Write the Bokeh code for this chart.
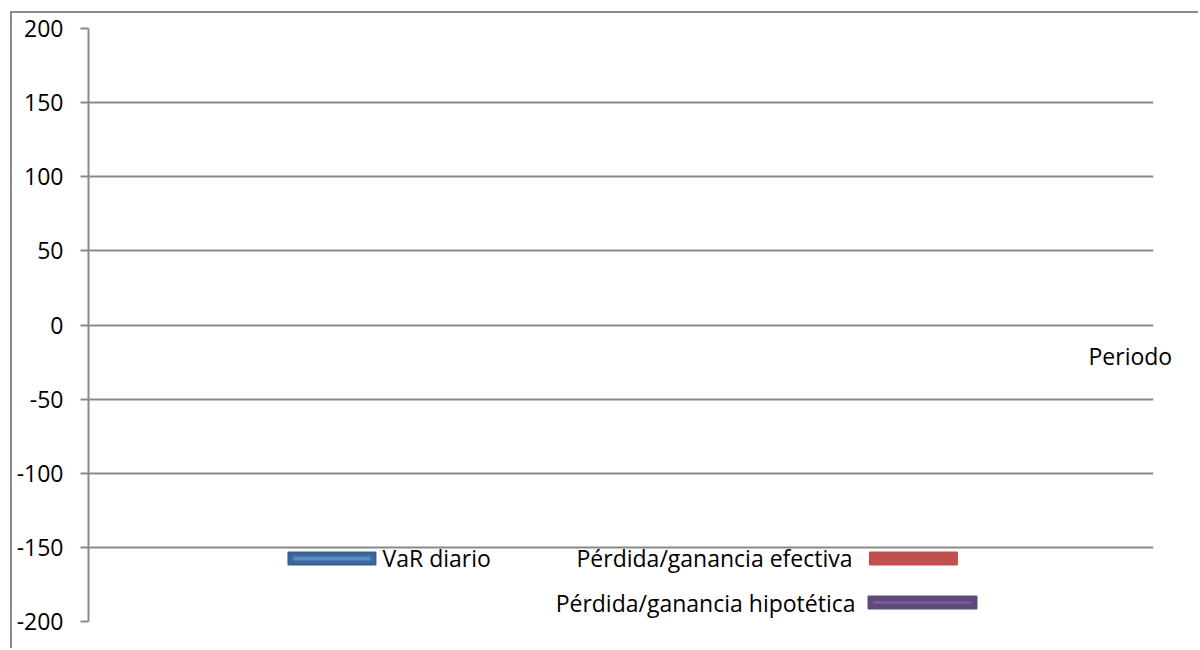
from bokeh.plotting import figure
from bokeh.models import Range1d, FixedTicker, Label, LinearAxis
from bokeh.embed import file_html
from bokeh.resources import INLINE

# ---- data (the reference chart has no plotted values) ----
periods = []
var_diario = []
pg_efectiva = []
pg_hipotetica = []
y_ticks = [-200, -150, -100, -50, 0, 50, 100, 150, 200]
y_tick_labels = ["-200", "-150", "-100", "-50", "0", "50", "100", "150", "200"]
series_names = ["VaR diario", "Pérdida/ganancia efectiva", "Pérdida/ganancia hipotética"]
x_title = "Periodo"
x_title_level = -21

FONT = "Open Sans"
FS = "23px"
GRID = "#898989"

p = figure(width=1188, height=637, output_backend="svg", toolbar_location=None,
           x_range=Range1d(0, 1), y_range=Range1d(-200, 200),
           min_border_left=76, min_border_right=47, min_border_top=15, min_border_bottom=29)
p.styles = {"border-left": "2px solid #8c8c8c", "border-top": "2px solid #8c8c8c",
            "margin-left": "10px", "margin-top": "11px"}
p.outline_line_color = None
p.background_fill_color = "white"
p.border_fill_color = "white"

p.xaxis.visible = False
p.xgrid.visible = False

ya = p.yaxis[0]
ya.ticker = FixedTicker(ticks=y_ticks)
ya.major_label_overrides = {t: l for t, l in zip(y_ticks, y_tick_labels)}
ya.axis_line_color = GRID
ya.axis_line_width = 2
ya.major_tick_line_color = GRID
ya.major_tick_line_width = 2
ya.major_tick_in = 0
ya.major_tick_out = 8
ya.minor_tick_line_color = None
ya.major_label_standoff = 17
ya.major_label_text_font = FONT
ya.major_label_text_font_size = FS
ya.major_label_text_color = "black"

p.ygrid.ticker = FixedTicker(ticks=y_ticks)
p.ygrid.grid_line_color = GRID
p.ygrid.grid_line_width = 2

# x-axis title placed at the right, as in the reference
ra = LinearAxis(ticker=FixedTicker(ticks=[x_title_level]),
                major_label_overrides={x_title_level: x_title})
ra.axis_line_color = None
ra.major_tick_line_color = None
ra.minor_tick_line_color = None
ra.major_tick_in = 0
ra.major_tick_out = 0
ra.major_label_standoff = -65
ra.major_label_text_font = FONT
ra.major_label_text_font_size = FS
ra.major_label_text_color = "black"
p.add_layout(ra, "right")

# series (empty, as in the reference)
p.line(periods, var_diario, line_color="#4F81BD", line_width=3)
p.line(periods, pg_efectiva, line_color="#C0504D", line_width=3)
p.line(periods, pg_hipotetica, line_color="#8064A2", line_width=3)

# legend (manual, mimicking the reference layout)
# VaR diario: swatch left, text right
p.rect(x=[0.2286], y=[-157.5], width=87, height=12, width_units="screen", height_units="screen",
       fill_color="#3D689E", line_color="#385D8A", line_width=2, line_join="round")
p.segment(x0=[0.1925], y0=[-157.5], x1=[0.2647], y1=[-157.5], line_color="#5B8BC7", line_width=4)
p.add_layout(Label(x=0.2761, y=-157.5, text=series_names[0], text_font=FONT, text_font_size=FS,
                   text_baseline="middle", text_align="left", text_color="black"))
# efectiva: text left, swatch right
p.rect(x=[0.7746], y=[-157.5], width=87, height=12, width_units="screen", height_units="screen",
       fill_color="#C0504D", line_color="#C0504D", line_width=2, line_join="round")
p.add_layout(Label(x=0.7174, y=-157.5, text=series_names[1], text_font=FONT, text_font_size=FS,
                   text_baseline="middle", text_align="right", text_color="black"))
# hipotetica
p.rect(x=[0.7831], y=[-187.2], width=108, height=12, width_units="screen", height_units="screen",
       fill_color="#5F497A", line_color="#5F497A", line_width=2, line_join="round")
p.segment(x0=[0.7371], y0=[-187.2], x1=[0.8291], y1=[-187.2], line_color="#8064A2", line_width=2)
p.add_layout(Label(x=0.7202, y=-187.2, text=series_names[2], text_font=FONT, text_font_size=FS,
                   text_baseline="middle", text_align="right", text_color="black"))

open("out.html", "w").write(file_html(p, INLINE))
